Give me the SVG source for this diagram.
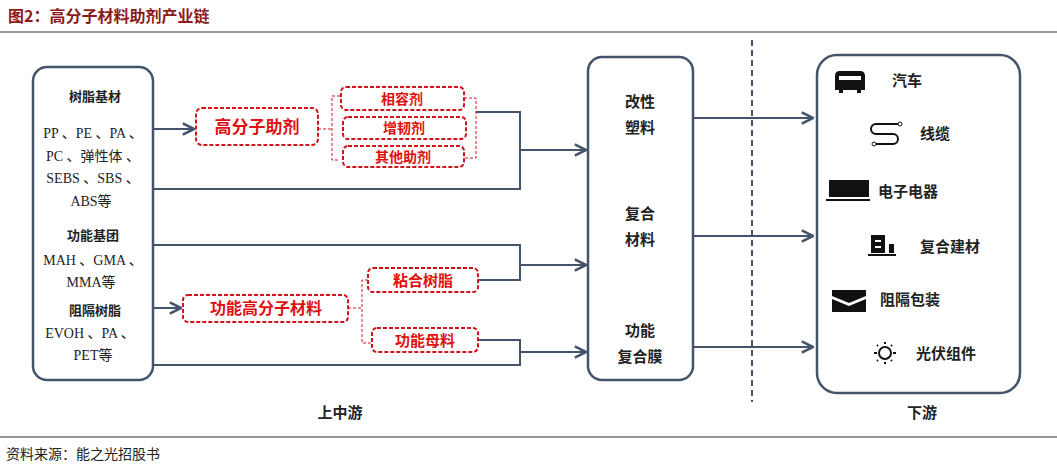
<svg xmlns="http://www.w3.org/2000/svg" width="1057" height="467" viewBox="0 0 1057 467">
<style>
text{font-family:"Liberation Serif","Noto Sans CJK SC",serif;}
.t{font-size:14px;fill:#222;text-anchor:middle}
.b{font-weight:bold}
.r{fill:none;stroke:#d0141c;stroke-width:2;stroke-dasharray:4 2}
.rt{font-family:"Noto Sans CJK SC",sans-serif;font-weight:bold;fill:#e01010;text-anchor:middle}
.br{fill:none;stroke:#d0141c;stroke-width:1;stroke-dasharray:3 2}
.c{fill:none;stroke:#44546a;stroke-width:2}
.box{fill:#fff;stroke:#44546a;stroke-width:2.5}
.m{font-family:"Noto Sans CJK SC",sans-serif;font-size:15px;fill:#222;text-anchor:middle;font-weight:bold}
.d{font-family:"Noto Sans CJK SC",sans-serif;font-size:15px;fill:#222;font-weight:bold}
</style>
<defs><marker id="a" viewBox="0 0 10 10" refX="9" refY="5" markerWidth="7" markerHeight="7" orient="auto"><path d="M1,1 L9,5 L1,9" fill="none" stroke="#44546a" stroke-width="1.8"/></marker></defs>
<rect width="1057" height="467" fill="#fff"/>
<text x="8" y="22" style="font-family:'Noto Sans CJK SC',sans-serif;font-size:16px;font-weight:bold;fill:#8b1a1a">图2：高分子材料助剂产业链</text>
<line x1="0" y1="32" x2="1057" y2="32" stroke="#333" stroke-width="1"/>
<line x1="0" y1="437" x2="1057" y2="437" stroke="#333" stroke-width="1"/>
<text x="6" y="459" style="font-family:'Noto Sans CJK SC',sans-serif;font-size:14px;fill:#222">资料来源：能之光招股书</text>
<line x1="752" y1="40" x2="752" y2="402" stroke="#44546a" stroke-width="2" stroke-dasharray="6 4"/>
<g id="connectors">
<path class="c" d="M153,129 H194" marker-end="url(#a)"/>
<path class="c" d="M153,308 H181" marker-end="url(#a)"/>
<path class="c" d="M153,189 H520 V112 H476"/>
<path class="c" d="M520,150 H586" marker-end="url(#a)"/>
<path class="c" d="M153,245 H520 V280 H478"/>
<path class="c" d="M520,265 H586" marker-end="url(#a)"/>
<path class="c" d="M153,365 H520 V340 H478"/>
<path class="c" d="M520,352 H586" marker-end="url(#a)"/>
<path class="c" d="M693,118 H813" marker-end="url(#a)"/>
<path class="c" d="M693,236 H813" marker-end="url(#a)"/>
<path class="c" d="M693,347 H813" marker-end="url(#a)"/>
<path class="br" d="M318,129 H332 M340,96 H332 V160 H340 M464,98 H476 V158 H464"/>
<path class="br" d="M348,308 H362 M368,280 H362 V343 H372"/>
</g>
<g id="left"><rect class="box" x="33" y="67" width="120" height="313" rx="14"/>
<text class="t b" x="95" y="101" style="font-family:'Noto Sans CJK SC',sans-serif;font-size:13px">树脂基材</text>
<text class="t" x="93" y="138">PP 、PE 、PA 、</text>
<text class="t" x="93" y="161">PC 、弹性体 、</text>
<text class="t" x="93" y="183">SEBS 、SBS 、</text>
<text class="t" x="91" y="206">ABS等</text>
<text class="t b" x="93" y="240" style="font-family:'Noto Sans CJK SC',sans-serif;font-size:13px">功能基团</text>
<text class="t" x="93" y="265">MAH 、GMA 、</text>
<text class="t" x="91" y="287">MMA等</text>
<text class="t b" x="95" y="315" style="font-family:'Noto Sans CJK SC',sans-serif;font-size:13px">阻隔树脂</text>
<text class="t" x="90" y="338">EVOH 、PA 、</text>
<text class="t" x="93" y="360">PET等</text></g>
<g id="n1"><rect class="r" x="196" y="108" width="122" height="37" rx="6"/><text class="rt" x="257" y="133" font-size="17">高分子助剂</text></g>
<g id="n2"><rect class="r" x="341" y="87" width="123" height="23" rx="5"/><text class="rt" x="402" y="104" font-size="14">相容剂</text></g>
<g id="n3"><rect class="r" x="343" y="117" width="123" height="22" rx="5"/><text class="rt" x="404" y="133" font-size="14">增韧剂</text></g>
<g id="n4"><rect class="r" x="343" y="146" width="121" height="21" rx="5"/><text class="rt" x="403" y="162" font-size="14">其他助剂</text></g>
<g id="n5"><rect class="r" x="183" y="295" width="165" height="27" rx="5"/><text class="rt" x="266" y="314" font-size="16">功能高分子材料</text></g>
<g id="n6"><rect class="r" x="368" y="268" width="110" height="24" rx="5"/><text class="rt" x="423" y="286" font-size="15">粘合树脂</text></g>
<g id="n7"><rect class="r" x="372" y="328" width="106" height="24" rx="5"/><text class="rt" x="425" y="346" font-size="15">功能母料</text></g>
<g id="mid"><rect class="box" x="588" y="57" width="105" height="323" rx="14"/>
<text class="m" x="640" y="107">改性</text><text class="m" x="640" y="133">塑料</text>
<text class="m" x="640" y="219">复合</text><text class="m" x="640" y="245">材料</text>
<text class="m" x="640" y="336">功能</text><text class="m" x="640" y="362">复合膜</text></g>
<g id="right"><rect class="box" x="817" y="55" width="203" height="338" rx="20"/>
<path d="M835,90 V76 Q835,71 840,71 H860 Q865,71 865,76 V90 H861 V93 H857 V90 H843 V93 H839 V90 Z M839,80 H861 V76 H839 Z" fill="#111"/>
<text class="d" x="892" y="86">汽车</text>
<path d="M898,124 H876 A5,5 0 0 0 876,134 H893 A5,5 0 0 1 893,144 H876" fill="none" stroke="#111" stroke-width="2"/>
<circle cx="900" cy="124" r="2" fill="none" stroke="#111"/><circle cx="874" cy="144" r="2" fill="none" stroke="#111"/>
<text class="d" x="920" y="139">线缆</text>
<rect x="829" y="180" width="40" height="17" fill="#111"/><rect x="826" y="199" width="44" height="2" fill="#111"/>
<text class="d" x="878" y="197">电子电器</text>
<path d="M871,253 V235 H885 V253 Z M889,253 V244 H894 V253 Z M868,254 H896 V256 H868 Z" fill="#111"/>
<rect x="875" y="240" width="6" height="2" fill="#fff"/><rect x="875" y="246" width="6" height="2" fill="#fff"/>
<text class="d" x="920" y="252">复合建材</text>
<path d="M832,290 H866 V296 L849,303 L832,296 Z M832,299 L849,306 L866,299 V312 H832 Z" fill="#111"/>
<text class="d" x="880" y="305">阻隔包装</text>
<circle cx="885" cy="353" r="6" fill="none" stroke="#111" stroke-width="2"/>
<path d="M874,353 H877 M893,353 H896 M885,342 V344 M885,362 V364 M877,345 L878,346 M892,345 L891,346 M877,361 L878,360 M892,361 L891,360" stroke="#111" stroke-width="2"/>
<text class="d" x="916" y="359">光伏组件</text></g>
<text x="340" y="418" class="m">上中游</text>
<text x="922" y="418" class="m">下游</text>
</svg>
